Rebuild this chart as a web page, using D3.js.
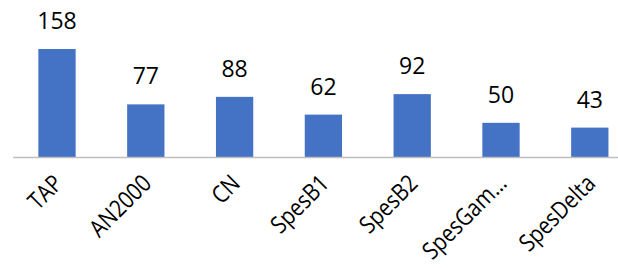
<!DOCTYPE html>
<html>
<head>
<meta charset="utf-8">
<script src="https://cdn.jsdelivr.net/npm/d3@7"></script>
<style>
  body { margin: 0; background: #fff; }
  svg { display: block; font-family: "Open Sans", sans-serif; }
</style>
</head>
<body>
<div id="chart"></div>
<script>
var categories = ["TAP", "AN2000", "CN", "SpesB1", "SpesB2", "SpesGam\u2026", "SpesDelta"];
var values = [158, 77, 88, 62, 92, 50, 43];

var width = 618,
    height = 268,
    baseY = 157;

var svg = d3.select("#chart").append("svg")
    .attr("width", width)
    .attr("height", height);

var x = d3.scaleBand()
    .domain(categories)
    .range([12.6, 634.2])
    .paddingInner(0.58)
    .paddingOuter(0.29);

var y = d3.scaleLinear()
    .domain([0, 200])
    .range([baseY, baseY - 200 * 0.6835]);

// bars
svg.selectAll("rect.bar")
    .data(values)
  .enter().append("rect")
    .attr("class", "bar")
    .attr("x", function(d, i) { return x(categories[i]); })
    .attr("y", function(d) { return y(d); })
    .attr("width", x.bandwidth())
    .attr("height", function(d) { return y(0) - y(d); })
    .style("fill", "#4472C4");

// value labels
svg.selectAll("text.val")
    .data(values)
  .enter().append("text")
    .attr("class", "val")
    .attr("x", function(d, i) { return x(categories[i]) + x.bandwidth() / 2; })
    .attr("y", function(d) { return y(d) - 20; })
    .attr("text-anchor", "middle")
    .style("font-size", "23px")
    .style("fill", "#000")
    .text(function(d) { return d; });

// x axis
var axis = svg.append("g")
    .attr("transform", "translate(0," + baseY + ")")
    .call(d3.axisBottom(x).tickSize(0).tickSizeOuter(0));

axis.select(".domain")
    .attr("stroke", "#bfbfbf")
    .attr("stroke-width", 1.5);

// rotated category labels, squeezed a little to mimic the narrow original face
axis.selectAll(".tick text")
    .attr("x", 0)
    .attr("y", 0)
    .attr("dy", 0)
    .attr("text-anchor", "end")
    .attr("transform", "translate(7,28) rotate(-45) scale(0.86,1)")
    .style("font-family", "'Open Sans', sans-serif")
    .style("font-size", "24px")
    .style("fill", "#000");
</script>
</body>
</html>
